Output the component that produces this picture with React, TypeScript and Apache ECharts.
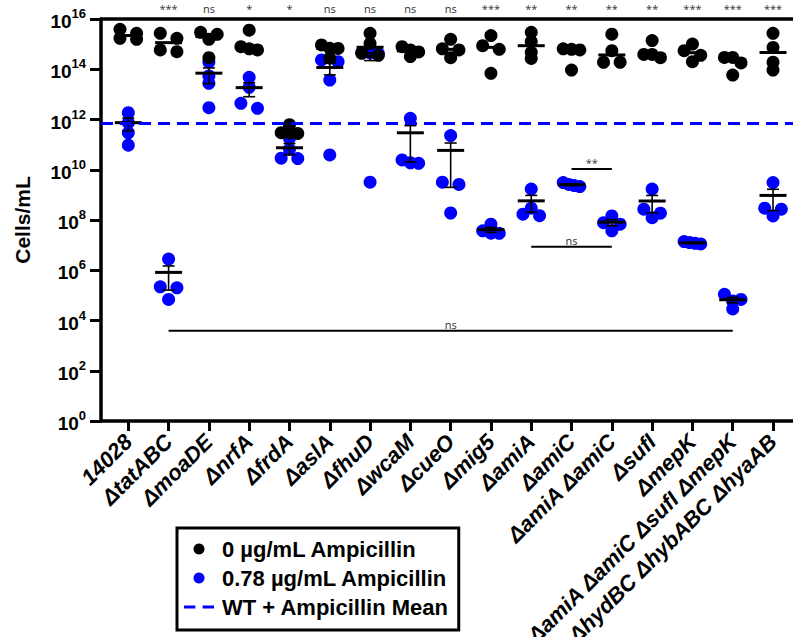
import React, { useEffect, useRef } from 'react';
import * as echarts from 'echarts';

// ---------------- data ----------------
const CATEGORIES = [
  '14028', 'ΔtatABC', 'ΔmoaDE', 'ΔnrfA', 'ΔfrdA', 'ΔaslA', 'ΔfhuD', 'ΔwcaM', 'ΔcueO',
  'Δmig5', 'ΔamiA', 'ΔamiC', 'ΔamiA ΔamiC', 'ΔsufI', 'ΔmepK',
  'ΔamiA ΔamiC ΔsufI ΔmepK', 'ΔhydBC ΔhybABC ΔhyaAB',
];
const SIGNIFICANCE = ['', '***', 'ns', '*', '*', 'ns', 'ns', 'ns', 'ns', '***', '**', '**', '**', '**', '***', '***', '***'];

// Cells/mL, 0 µg/mL ampicillin (black)
const AMP_0 = [
  [2.7e15, 3.9e15, 1.55e15, 1.7e15],
  [1.7e15, 2.7e15, 5.0e14, 5.9e14],
  [2.45e15, 2.95e15, 1.55e15, 2.9e14],
  [3.6e15, 6.5e14, 7.9e14, 5.9e14],
  [6.2e11, 2.8e11, 3.0e11, 2.9e11],
  [6.8e14, 9.3e14, 6.7e14, 2.75e14],
  [2.7e15, 1.07e15, 4.3e14, 3.6e14],
  [5.9e14, 7.9e14, 3.2e14, 4.9e14],
  [1.55e15, 6.5e14, 5.9e14, 2.9e14],
  [2.2e15, 8.7e14, 6.2e14, 6.9e13],
  [2.95e15, 1.26e15, 4.7e14, 2.7e14],
  [6.2e14, 6.5e14, 5.9e14, 9.3e13],
  [2.5e15, 5.5e14, 1.9e14, 1.9e14],
  [1.38e15, 3.9e14, 2.9e14, 3.9e14],
  [1.0e15, 5.5e14, 3.6e14, 2.0e14],
  [2.95e14, 2.95e14, 1.78e14, 5.9e13],
  [2.7e15, 7.4e14, 1.9e14, 9.3e13],
];

// Cells/mL, 0.78 µg/mL ampicillin (blue)
const AMP_078 = [
  [1.86e12, 7.4e11, 2.95e11, 9.5e10],
  [2.8e6, 2.0e5, 2.2e5, 6.9e4],
  [1.95e14, 5.4e13, 2.75e13, 2.95e12],
  [4.8e13, 1.9e13, 4.4e12, 2.8e12],
  [1.78e11, 6.5e10, 2.9e10, 2.8e10],
  [2.35e14, 2.0e14, 3.7e13, 3.9e10],
  [4.6e14, 4.5e14, 4.2e14, 3.2e9],
  [1.12e12, 1.8e10, 1.9e10, 2.45e10],
  [2.3e11, 3.2e9, 2.6e9, 1.9e8],
  [6.8e7, 2.95e7, 3.0e7, 3.7e7],
  [1.7e9, 2.95e8, 1.48e8, 1.7e8],
  [2.15e9, 3.1e9, 2.35e9, 2.6e9],
  [1.45e8, 3.7e7, 7.8e7, 6.8e7],
  [1.7e9, 2.7e8, 1.23e8, 1.86e8],
  [1.18e7, 1.38e7, 1.12e7, 1.26e7],
  [1.1e5, 6.9e4, 6.0e4, 2.9e4],
  [3.1e9, 2.95e8, 2.7e8, 1.45e8],
];

const Y_EXPONENTS = [0, 2, 4, 6, 8, 10, 12, 14, 16];

// comparison brackets (category index from / to, level in cells/mL, label)
const BRACKET_FROM = [1, 10, 11];
const BRACKET_TO = [15, 12, 12];
const BRACKET_LEVEL = [3.9e3, 8.7e6, 1.07e10];
const BRACKET_LABEL = ['ns', 'ns', '**'];

const NAME_0 = '0 µg/mL Ampicillin';
const NAME_078 = '0.78 µg/mL Ampicillin';
const NAME_WT = 'WT + Ampicillin Mean';

// ---------------- layout ----------------
const W = 793;
const H = 637;
const GRID = { left: 101, right: 0, top: 19, bottom: 216 };
const X_MIN = -0.6775;
const X_MAX = 16.496;
const BLUE = '#0000ff';
const FONT = 'Liberation Sans, Arial, Helvetica, sans-serif';
const SIG_FONT = 'Open Sans, Noto Sans, sans-serif';
const SYMBOL = 13;
const ROW_W = 16.6; // px spread for points sharing a row
const ROW_GAP = 6; // px: points closer than this share a row

const GRID_W = W - GRID.left - GRID.right;
const GRID_H = H - GRID.top - GRID.bottom;
const PX_PER_CAT = GRID_W / (X_MAX - X_MIN);
const PX_PER_DEC = GRID_H / (Y_EXPONENTS[Y_EXPONENTS.length - 1] - Y_EXPONENTS[0]);

const lg = (v: number) => Math.log10(v);
const mean = (a: number[]) => a.reduce((s, v) => s + v, 0) / a.length;
const sem = (a: number[]) => {
  const m = mean(a);
  const sd = Math.sqrt(a.reduce((s, v) => s + (v - m) * (v - m), 0) / (a.length - 1));
  return sd / Math.sqrt(a.length);
};
const median = (a: number[]) => {
  const s = [...a].sort((p, q) => p - q);
  const n = s.length;
  return n % 2 ? s[(n - 1) / 2] : (s[n / 2 - 1] + s[n / 2]) / 2;
};

// GraphPad-like horizontal spreading of points that share a row
function spread(vals: number[]): number[] {
  const ys = vals.map((v) => lg(v) * PX_PER_DEC);
  const order = ys.map((_, i) => i).sort((a, b) => ys[b] - ys[a]);
  const off = new Array(vals.length).fill(0);
  let row: number[] = [];
  const flush = () => {
    const n = row.length;
    row.forEach((idx, k) => {
      off[idx] = n === 1 ? 0 : (-ROW_W / 2 + (ROW_W * k) / (n - 1)) / PX_PER_CAT;
    });
    row = [];
  };
  for (const idx of order) {
    if (row.length && ys[row[0]] - ys[idx] > ROW_GAP) flush();
    row.push(idx);
  }
  flush();
  return off;
}

function scatterData(groups: number[][]) {
  const out: number[][] = [];
  groups.forEach((g, i) => {
    const off = spread(g);
    g.forEach((v, j) => out.push([i + off[j], lg(v)]));
  });
  return out;
}

export default function App() {
  const ref = useRef<HTMLDivElement>(null);

  useEffect(() => {
    if (!ref.current) return;
    const chart = echarts.init(ref.current, null, { renderer: 'svg' });

    const blueStats = AMP_078.map((g, i) => {
      const m = mean(g);
      const s = sem(g);
      const lo = m - s;
      return [i, lg(m), lo > 0 ? lg(lo) : Y_EXPONENTS[0], lg(m + s), lo > 0 ? 1 : 0];
    });
    const blackMedians = AMP_0.map((g, i) => [i, lg(median(g))]);
    const wtMean = lg(mean(AMP_078[0]));
    const brackets = BRACKET_FROM.map((f, i) => [f, BRACKET_TO[i], lg(BRACKET_LEVEL[i]), i]);
    const idx = CATEGORIES.map((_, i) => i);
    const sigIdx = idx.filter((i) => SIGNIFICANCE[i] !== '');

    const option: any = {
      animation: false,
      grid: { ...GRID, containLabel: false, outerBoundsMode: 'none' },
      xAxis: [
        {
          type: 'value',
          min: X_MIN,
          max: X_MAX,
          position: 'bottom',
          splitLine: { show: false },
          axisLine: { show: true, onZero: false, lineStyle: { color: '#000', width: 3.5 } },
          axisTick: { show: true, customValues: idx, length: 10, lineStyle: { color: '#000', width: 3 } },
          axisLabel: {
            customValues: idx,
            formatter: (v: number) => CATEGORIES[Math.round(v)] ?? '',
            rotate: 45,
            margin: 17,
            color: '#000',
            fontFamily: FONT,
            fontWeight: 'bold',
            fontStyle: 'italic',
            fontSize: 22,
          },
        },
        {
          type: 'value',
          min: X_MIN,
          max: X_MAX,
          position: 'top',
          splitLine: { show: false },
          axisLine: { show: true, onZero: false, lineStyle: { color: '#000', width: 3.5 } },
          axisTick: { show: false },
          axisLabel: {
            customValues: sigIdx,
            formatter: (v: number) => SIGNIFICANCE[Math.round(v)] ?? '',
            margin: 5,
            color: '#333',
            fontFamily: SIG_FONT,
            fontSize: 11,
          },
        },
      ],
      yAxis: {
        type: 'value',
        min: Y_EXPONENTS[0],
        max: Y_EXPONENTS[Y_EXPONENTS.length - 1],
        interval: 2,
        splitLine: { show: false },
        axisLine: { show: true, onZero: false, lineStyle: { color: '#000', width: 3.5 } },
        axisTick: { show: true, length: 11, lineStyle: { color: '#000', width: 3 } },
        axisLabel: {
          margin: 15,
          formatter: (v: number) => `{b|10}{s|${v}}`,
          rich: {
            b: { fontSize: 19, fontWeight: 'bold', fontFamily: FONT, color: '#000', verticalAlign: 'bottom', padding: [5, 0, 0, 0] },
            s: { fontSize: 13, fontWeight: 'bold', fontFamily: FONT, color: '#000', verticalAlign: 'top' },
          },
        },
        name: 'Cells/mL',
        nameLocation: 'middle',
        nameGap: 68,
        nameTextStyle: { fontSize: 21, fontWeight: 'bold', fontFamily: FONT, color: '#000' },
      },
      legend: {
        orient: 'vertical',
        left: 177,
        top: 528,
        padding: [10, 10, 12, 7],
        borderColor: '#000',
        borderWidth: 3,
        itemGap: 7,
        itemWidth: 30,
        itemHeight: 11,
        textStyle: { fontSize: 22, fontWeight: 'bold', fontFamily: FONT, color: '#000', padding: [0, 0, 0, 3] },
        data: [
          { name: NAME_0, icon: 'circle' },
          { name: NAME_078, icon: 'circle' },
          { name: NAME_WT, icon: 'path://M0,0h11v3h-11z M18,0h11v3h-11z' },
        ],
      },
      series: [
        {
          name: NAME_WT,
          type: 'line',
          data: [],
          symbol: 'none',
          z: 1,
          itemStyle: { color: BLUE },
          lineStyle: { color: BLUE, width: 3, type: [11, 7] },
          markLine: {
            silent: true,
            symbol: 'none',
            label: { show: false },
            lineStyle: { color: BLUE, width: 3, type: [12, 7] },
            data: [{ yAxis: wtMean }],
          },
        },
        {
          name: NAME_078,
          type: 'scatter',
          symbolSize: SYMBOL,
          itemStyle: { color: BLUE, opacity: 1 },
          z: 2,
          data: scatterData(AMP_078),
        },
        {
          name: NAME_0,
          type: 'scatter',
          symbolSize: SYMBOL,
          itemStyle: { color: '#000', opacity: 1 },
          z: 3,
          data: scatterData(AMP_0),
        },
        {
          name: 'median',
          type: 'custom',
          z: 4,
          data: blackMedians,
          renderItem: (_: any, api: any) => {
            const [cx, cy] = api.coord([api.value(0), api.value(1)]);
            return {
              type: 'line',
              shape: { x1: cx - 13.5, y1: cy, x2: cx + 13.5, y2: cy },
              style: { stroke: '#000', lineWidth: 3 },
            };
          },
        },
        {
          name: 'meanSEM',
          type: 'custom',
          z: 4,
          data: blueStats,
          renderItem: (_: any, api: any) => {
            const x = api.value(0);
            const [cx, cy] = api.coord([x, api.value(1)]);
            const ly = api.coord([x, api.value(2)])[1];
            const hy = api.coord([x, api.value(3)])[1];
            const hasLow = api.value(4) === 1;
            const children: any[] = [
              { type: 'line', shape: { x1: cx, y1: hy, x2: cx, y2: ly }, style: { stroke: '#000', lineWidth: 1.6 } },
              { type: 'line', shape: { x1: cx - 6, y1: hy, x2: cx + 6, y2: hy }, style: { stroke: '#000', lineWidth: 1.6 } },
              { type: 'line', shape: { x1: cx - 13.5, y1: cy, x2: cx + 13.5, y2: cy }, style: { stroke: '#000', lineWidth: 3 } },
            ];
            if (hasLow) {
              children.push({ type: 'line', shape: { x1: cx - 6, y1: ly, x2: cx + 6, y2: ly }, style: { stroke: '#000', lineWidth: 1.6 } });
            }
            return { type: 'group', children };
          },
        },
        {
          name: 'brackets',
          type: 'custom',
          z: 4,
          data: brackets,
          encode: { x: [0, 1], y: 2 },
          renderItem: (_: any, api: any) => {
            const lvl = api.value(2);
            const [x1, y] = api.coord([api.value(0), lvl]);
            const [x2] = api.coord([api.value(1), lvl]);
            const label = BRACKET_LABEL[Math.round(api.value(3))];
            return {
              type: 'group',
              children: [
                { type: 'line', shape: { x1, y1: y, x2, y2: y }, style: { stroke: '#000', lineWidth: 2 } },
                {
                  type: 'text',
                  x: (x1 + x2) / 2,
                  y: y - 1,
                  style: {
                    text: label,
                    fill: '#333',
                    fontSize: 11,
                    fontFamily: SIG_FONT,
                    align: 'center',
                    verticalAlign: 'bottom',
                  },
                },
              ],
            };
          },
        },
      ],
    };

    chart.setOption(option);
    return () => chart.dispose();
  }, []);

  return <div ref={ref} style={{ position: 'absolute', left: 0, top: 0, width: W, height: H, background: '#fff' }} />;
}
